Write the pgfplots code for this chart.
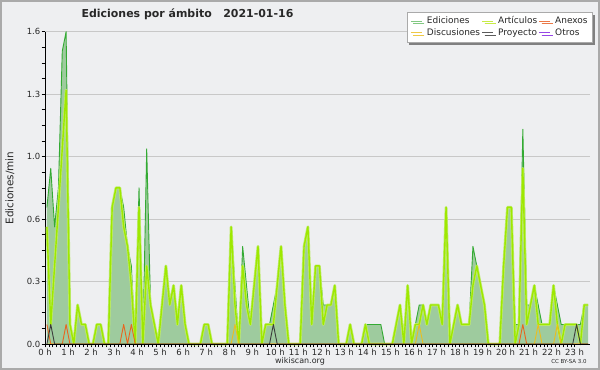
\documentclass[border=0pt]{standalone}
\usepackage{pgfplots}
\pgfplotsset{compat=1.18}
\usepackage{pgfplotstable}
\usepackage{fontspec}
\setmainfont{DejaVu Sans}
\usetikzlibrary{shadows}
\definecolor{bgc}{RGB}{238,239,241}
\definecolor{borderc}{RGB}{170,170,170}
\definecolor{gridc}{RGB}{200,200,200}
\definecolor{edfill}{RGB}{158,203,158}
\definecolor{edline}{RGB}{51,170,51}
\definecolor{artline}{RGB}{158,232,0}
\definecolor{arthalo}{RGB}{190,235,110}
\definecolor{anxline}{RGB}{232,100,30}
\definecolor{disline}{RGB}{235,190,30}
\definecolor{proline}{RGB}{60,60,60}
\definecolor{otrline}{RGB}{150,70,230}
\definecolor{legEd}{RGB}{130,200,130}
\definecolor{legArt}{RGB}{200,235,70}
\definecolor{legAnx}{RGB}{235,120,70}
\definecolor{legDis}{RGB}{238,200,70}
\definecolor{legPro}{RGB}{90,90,90}
\definecolor{legOtr}{RGB}{150,70,230}
\definecolor{textc}{RGB}{40,40,40}

\pgfplotstableread{
x ed art anx dis pro
0.5 0.7 0.6 0.1 0 0
1.5 0.9 0.1 0 0 0.1
2.5 0.6 0.4 0 0 0
3.5 0.8 0.7 0 0 0
4.5 1.5 1.0 0 0 0
5.5 1.6 1.3 0.1 0 0
6.5 0.1 0.1 0 0 0
7.5 0 0 0 0 0
8.5 0.2 0.2 0 0 0
9.5 0.1 0.1 0 0 0
10.5 0.1 0.1 0 0 0
11.5 0 0 0 0 0
12.5 0 0 0 0 0
13.5 0.1 0.1 0 0 0
14.5 0.1 0.1 0 0 0
15.5 0 0 0 0 0
16.5 0 0 0 0 0
17.5 0.7 0.7 0 0 0
18.5 0.8 0.8 0 0 0
19.5 0.8 0.8 0 0 0
20.5 0.7 0.6 0.1 0 0
21.5 0.5 0.5 0 0 0
22.5 0.4 0.3 0.1 0 0
23.5 0 0 0 0 0
24.5 0.8 0.7 0 0 0
25.5 0 0 0 0 0
26.5 1.0 0.4 0 0 0
27.5 0.2 0.2 0 0 0
28.5 0.1 0.1 0 0 0
29.5 0 0 0 0 0
30.5 0.2 0.2 0 0 0
31.5 0.4 0.4 0 0 0
32.5 0.2 0.2 0 0 0
33.5 0.3 0.3 0 0 0
34.5 0.1 0.1 0 0 0
35.5 0.3 0.3 0 0 0
36.5 0.1 0.1 0 0 0
37.5 0 0 0 0 0
38.5 0 0 0 0 0
39.5 0 0 0 0 0
40.5 0 0 0 0 0
41.5 0.1 0.1 0 0 0
42.5 0.1 0.1 0 0 0
43.5 0 0 0 0 0
44.5 0 0 0 0 0
45.5 0 0 0 0 0
46.5 0 0 0 0 0
47.5 0 0 0 0 0
48.5 0.6 0.6 0 0 0
49.5 0.3 0.2 0 0.1 0
50.5 0 0 0 0 0
51.5 0.5 0.4 0 0 0
52.5 0.3 0.2 0 0 0
53.5 0.1 0.1 0 0 0
54.5 0.3 0.3 0 0 0
55.5 0.5 0.5 0 0 0
56.5 0 0 0 0 0
57.5 0.1 0.1 0 0 0
58.5 0.1 0.1 0 0 0
59.5 0.2 0.1 0 0 0.1
60.5 0.3 0.3 0 0 0
61.5 0.5 0.5 0 0 0
62.5 0.2 0.2 0 0 0
63.5 0 0 0 0 0
64.5 0 0 0 0 0
65.5 0 0 0 0 0
66.5 0 0 0 0 0
67.5 0.5 0.5 0 0 0
68.5 0.6 0.6 0 0 0
69.5 0.1 0.1 0 0 0
70.5 0.4 0.4 0 0 0
71.5 0.4 0.4 0 0 0
72.5 0.2 0.1 0 0 0
73.5 0.2 0.2 0 0 0
74.5 0.2 0.2 0 0 0
75.5 0.3 0.3 0 0 0
76.5 0 0 0 0 0
77.5 0 0 0 0 0
78.5 0 0 0 0 0
79.5 0.1 0.1 0 0 0
80.5 0 0 0 0 0
81.5 0 0 0 0 0
82.5 0 0 0 0 0
83.5 0.1 0.1 0 0 0
84.5 0.1 0 0 0 0
85.5 0.1 0 0 0 0
86.5 0.1 0 0 0 0
87.5 0.1 0 0 0 0
88.5 0 0 0 0 0
89.5 0 0 0 0 0
90.5 0 0 0 0 0
91.5 0.1 0.1 0 0 0
92.5 0.2 0.2 0 0 0
93.5 0 0 0 0 0
94.5 0.3 0.3 0 0 0
95.5 0 0 0 0 0
96.5 0.1 0.1 0 0 0
97.5 0.2 0.1 0 0.1 0
98.5 0.2 0.2 0 0 0
99.5 0.1 0.1 0 0 0
100.5 0.2 0.2 0 0 0
101.5 0.2 0.2 0 0 0
102.5 0.2 0.2 0 0 0
103.5 0.1 0.1 0 0 0
104.5 0.7 0.7 0 0 0
105.5 0 0 0 0 0
106.5 0.1 0.1 0 0 0
107.5 0.2 0.2 0 0 0
108.5 0.1 0.1 0 0 0
109.5 0.1 0.1 0 0 0
110.5 0.1 0.1 0 0 0
111.5 0.5 0.3 0 0 0
112.5 0.4 0.4 0 0 0
113.5 0.3 0.3 0 0 0
114.5 0.2 0.2 0 0 0
115.5 0 0 0 0 0
116.5 0 0 0 0 0
117.5 0 0 0 0 0
118.5 0 0 0 0 0
119.5 0.4 0.4 0 0 0
120.5 0.7 0.7 0 0 0
121.5 0.7 0.7 0 0 0
122.5 0.1 0 0 0 0
123.5 0.1 0.1 0 0 0
124.5 1.1 0.9 0.1 0 0
125.5 0.2 0.1 0 0 0
126.5 0.2 0.2 0 0 0
127.5 0.3 0.3 0 0 0
128.5 0.2 0.1 0 0.1 0
129.5 0.1 0.1 0 0 0
130.5 0.1 0.1 0 0 0
131.5 0.1 0.1 0 0 0
132.5 0.3 0.3 0 0 0
133.5 0.2 0.1 0 0.1 0
134.5 0.1 0 0 0 0
135.5 0.1 0.1 0 0 0
136.5 0.1 0.1 0 0 0
137.5 0.1 0.1 0 0 0
138.5 0.1 0.1 0 0 0.1
139.5 0.1 0 0 0 0
140.5 0.2 0.2 0 0 0
141.5 0.2 0.2 0 0 0
}\data

\begin{document}
\begin{tikzpicture}
\useasboundingbox (0,0) rectangle (600bp,370bp);
\fill[bgc] (0,0) rectangle (600bp,370bp);
\draw[borderc, line width=2bp] (1bp,1bp) rectangle (599bp,369bp);
\begin{axis}[
  at={(45bp,26bp)}, anchor=south west,
  scale only axis, width=545bp, height=312.3bp,
  xmin=0, xmax=142, ymin=0, ymax=1.6,
  clip=false,
  axis x line*=bottom, axis y line*=left,
  axis line style={black, line width=0.8bp, -},
  xtick={0,6,...,138},
  xticklabels={0 h,1 h,2 h,3 h,4 h,5 h,6 h,7 h,8 h,9 h,10 h,11 h,12 h,13 h,14 h,15 h,16 h,17 h,18 h,19 h,20 h,21 h,22 h,23 h},
  minor x tick num=5,
  ytick={0,0.32,0.64,0.96,1.28,1.6},
  yticklabels={0.0,0.3,0.6,1.0,1.3,1.6},
  minor y tick num=3,
  tick align=outside,
  major tick length=3.5bp, minor tick length=3.5bp,
  tick style={black, line width=0.6bp},
  ymajorgrids,
  major grid style={gridc, line width=0.8bp},
  ticklabel style={font=\fontsize{8.5}{10}\selectfont, text=textc},
  yticklabel style={inner sep=1bp},
  xticklabel style={inner sep=1.5bp},
  legend style={
    at={(1.0055,1.064)}, anchor=north east,
    draw=borderc, fill=white, line width=0.8bp,
    font=\fontsize{9}{10}\selectfont, text=textc,
    inner sep=3.5bp, column sep=3bp,
    /tikz/column 2/.style={column sep=0bp},
    /tikz/column 4/.style={column sep=0bp},
    nodes={inner sep=1.5bp, text height=6.5bp, text depth=2bp},
    drop shadow={shadow xshift=2.5bp, shadow yshift=-2.5bp, fill=black!50, opacity=1},
  },
  legend columns=3, legend cell align=left,
  legend image code/.code={\draw[#1, line width=1bp] (0bp,0bp) -- (11bp,0bp);},
]
\addplot[draw=none, fill=edfill, forget plot] table[x=x, y=ed] {\data} \closedcycle;
\addplot[edline, line width=0.9bp, line join=round, forget plot] table[x=x, y=ed] {\data};
\addplot[arthalo, line width=2.8bp, line join=round, forget plot] table[x=x, y=art] {\data};
\addplot[artline, line width=1.4bp, line join=round, forget plot] table[x=x, y=art] {\data};
\addplot[anxline, line width=0.9bp, line join=round, forget plot] table[x=x, y=anx] {\data};
\addplot[disline, line width=0.9bp, line join=round, forget plot] table[x=x, y=dis] {\data};
\addplot[proline, line width=0.9bp, line join=round, forget plot] table[x=x, y=pro] {\data};
\addplot[black, line width=0.8bp, forget plot] coordinates {(0,0) (142,0)};
\addlegendimage{legEd}\addlegendentry{Ediciones}
\addlegendimage{legArt}\addlegendentry{Artículos}
\addlegendimage{legAnx}\addlegendentry{Anexos}
\addlegendimage{legDis}\addlegendentry{Discusiones}
\addlegendimage{legPro}\addlegendentry{Proyecto}
\addlegendimage{legOtr}\addlegendentry{Otros}
\end{axis}
\node[anchor=base, font=\bfseries\fontsize{11}{13}\selectfont, text=textc] at (187.5bp,352bp) {Ediciones por ámbito\ \ \ 2021-01-16};
\node[rotate=90, font=\fontsize{10.5}{12}\selectfont, text=textc] at (10bp,182bp) {Ediciones/min};
\node[font=\fontsize{8}{9}\selectfont, text=textc] at (300bp,9bp) {wikiscan.org};
\node[font=\fontsize{5.5}{6.5}\selectfont, text=textc] at (569bp,8bp) {CC BY-SA 3.0};
\end{tikzpicture}
\end{document}
